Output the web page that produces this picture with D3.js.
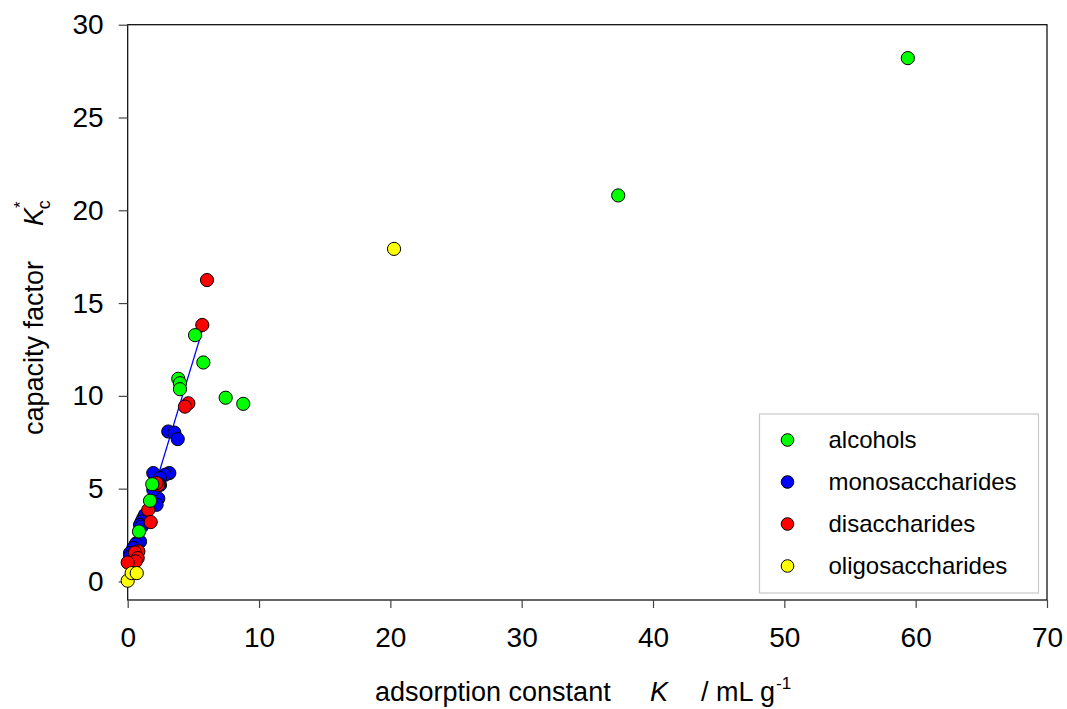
<!DOCTYPE html>
<html>
<head>
<meta charset="utf-8">
<script src="https://cdn.jsdelivr.net/npm/d3@7"></script>
<style>
  body { margin: 0; background: #fff; }
  svg { font-family: Arial, "Liberation Sans", sans-serif; }
</style>
</head>
<body>
<div class="chart"></div>
<script>
// data: [K, Kc*]
var alcohols = [[59.4, 28.2], [37.35, 20.8], [8.8, 9.57], [7.46, 9.9], [5.76, 11.8], [5.13, 13.27],
  [3.85, 10.92], [3.98, 10.68], [3.98, 10.36], [1.87, 5.24], [1.70, 4.35], [0.86, 2.69]];
var monosaccharides = [[3.09, 8.08], [3.55, 8.02], [3.81, 7.67], [1.95, 5.84], [3.17, 5.84], [2.84, 5.75],
  [2.46, 5.57], [2.46, 5.2], [2.33, 4.47], [1.95, 4.94], [2.2, 4.13], [1.19, 3.41], [1.32, 3.59],
  [1.07, 3.23], [0.94, 3.05], [1.07, 2.96], [0.69, 2.07], [0.94, 2.15], [0.6, 2.0], [0.43, 1.8],
  [0.18, 1.53], [0.18, 1.35]];
var disaccharides = [[6.04, 16.24], [5.68, 13.82], [4.62, 9.6], [4.36, 9.42], [2.33, 5.21], [2.2, 5.3],
  [1.57, 3.86], [1.75, 3.2], [0.81, 1.62], [0.56, 1.56], [0.76, 1.26], [0.61, 1.08], [0.0, 1.02]];
var oligosaccharides = [[20.28, 17.92], [0.0, 0.04], [0.3, 0.45], [0.69, 0.45]];
var fitLine = [[0, 0.3], [5.83, 13.88]];

var xTicks = [0, 10, 20, 30, 40, 50, 60, 70];
var yTicks = [0, 5, 10, 15, 20, 25, 30];

var series = [
  { name: "alcohols", color: "#00ff00", data: alcohols },
  { name: "monosaccharides", color: "#0000ff", data: monosaccharides },
  { name: "disaccharides", color: "#ff0000", data: disaccharides },
  { name: "oligosaccharides", color: "#ffff00", data: oligosaccharides }
];
// drawing order seen in the picture
var drawOrder = [1, 2, 3, 0];

var margin = { top: 24.7, right: 20, bottom: 109, left: 127.7 },
    width = 1067 - margin.left - margin.right,
    height = 709 - margin.top - margin.bottom;

var xScale = d3.scaleLinear().domain([0, 70]).range([0, width]);
var yScale = d3.scaleLinear().domain([-1, 30]).range([height, 0]);

var svg = d3.select(".chart").append("svg")
    .attr("width", 1067).attr("height", 709)
  .append("g")
    .attr("transform", "translate(" + margin.left + "," + margin.top + ")");

// frame
svg.append("rect")
   .attr("x", 0).attr("y", 0)
   .attr("width", width).attr("height", height)
   .attr("fill", "none").attr("stroke", "#000").attr("stroke-width", 1.2);

var xAxis = d3.axisBottom(xScale).tickValues(xTicks).tickSize(8).tickPadding(19).tickFormat(d3.format("d"));
var yAxis = d3.axisLeft(yScale).tickValues(yTicks).tickSize(9).tickPadding(15).tickFormat(d3.format("d"));

var gx = svg.append("g").attr("transform", "translate(0," + height + ")").call(xAxis);
var gy = svg.append("g").call(yAxis);
[gx, gy].forEach(function (g) {
  g.select(".domain").remove();
  g.selectAll(".tick line").attr("stroke", "#444").attr("stroke-width", 1.2);
  g.selectAll(".tick text").attr("font-size", "28px").attr("fill", "#000")
   .attr("font-family", "Arial, 'Liberation Sans', sans-serif");
});

// regression line
var line = d3.line().x(function (d) { return xScale(d[0]); }).y(function (d) { return yScale(d[1]); });
svg.append("path").datum(fitLine)
   .attr("d", line).attr("fill", "none").attr("stroke", "#0000ff").attr("stroke-width", 1.3);

// points
drawOrder.forEach(function (i) {
  var s = series[i];
  svg.append("g").selectAll("circle")
     .data(s.data).enter().append("circle")
     .attr("cx", function (d) { return xScale(d[0]); })
     .attr("cy", function (d) { return yScale(d[1]); })
     .attr("r", 6.6)
     .attr("fill", s.color)
     .attr("stroke", "#000").attr("stroke-width", 1);
});

// legend
var lg = d3.select("svg").append("g").attr("transform", "translate(759.5,414)");
lg.append("rect").attr("width", 279).attr("height", 179)
  .attr("fill", "#fff").attr("stroke", "#c8c8c8").attr("stroke-width", 1.2);
series.forEach(function (s, i) {
  var y = 26 + i * 42;
  lg.append("circle").attr("cx", 28).attr("cy", y).attr("r", 6.3)
    .attr("fill", s.color).attr("stroke", "#000").attr("stroke-width", 1);
  lg.append("text").attr("x", 69).attr("y", y).attr("dy", "0.35em")
    .attr("font-size", "24px").attr("fill", "#000").text(s.name);
});

// axis titles
var xt = d3.select("svg").append("text")
   .attr("y", 701).attr("font-size", "27px").attr("fill", "#000");
xt.append("tspan").attr("x", 375).text("adsorption constant");
xt.append("tspan").attr("x", 650).attr("font-style", "italic").text("K");
xt.append("tspan").attr("x", 701).text("/ mL g");
xt.append("tspan").attr("dx", 1).attr("dy", -12).attr("font-size", "17px").text("-1");

var yt = d3.select("svg").append("text")
   .attr("transform", "translate(43,435) rotate(-90)")
   .attr("font-size", "27px").attr("fill", "#000");
yt.append("tspan").attr("x", 0).text("capacity factor");
yt.append("tspan").attr("x", 209).attr("font-style", "italic").text("K");
yt.append("tspan").attr("dy", -17).attr("font-size", "17px").text("*");
yt.append("tspan").attr("dx", -8).attr("dy", 24).attr("font-size", "18px").text("c");
</script>
</body>
</html>
